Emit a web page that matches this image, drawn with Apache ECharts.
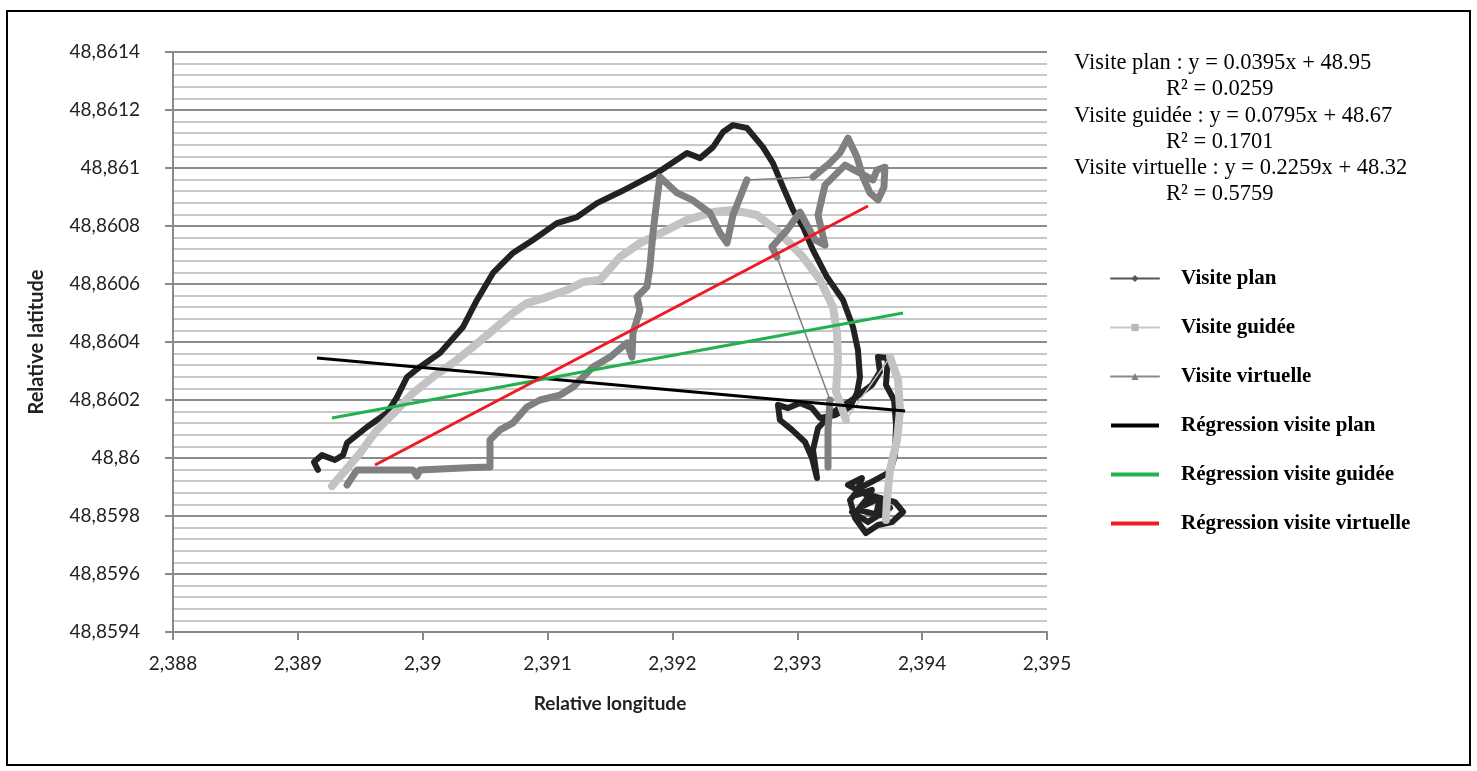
<!DOCTYPE html>
<html>
<head>
<meta charset="utf-8">
<script src="https://cdn.jsdelivr.net/npm/echarts@6/dist/echarts.min.js"></script>
<style>
html, body { margin: 0; padding: 0; background: #fff; }
#chart { width: 1477px; height: 771px; }
</style>
</head>
<body>
<div id="chart"></div>
<script>
// axes
var xTicks = [2.388, 2.389, 2.39, 2.391, 2.392, 2.393, 2.394, 2.395];
var yTicks = [48.8594, 48.8596, 48.8598, 48.86, 48.8602, 48.8604, 48.8606, 48.8608, 48.861, 48.8612, 48.8614];

// trajectoires [longitude, latitude]
var planPath = [
  [2.389161, 48.859959], [2.389129, 48.859986], [2.389193, 48.86001], [2.389297, 48.859993],
  [2.389362, 48.86001], [2.389394, 48.860052], [2.389554, 48.860107], [2.389714, 48.860155],
  [2.389794, 48.86021], [2.389874, 48.860279], [2.389978, 48.860314], [2.390138, 48.860362],
  [2.390323, 48.860452], [2.390435, 48.860545], [2.390563, 48.860638], [2.390723, 48.860707],
  [2.390883, 48.860752], [2.391075, 48.86081], [2.391236, 48.860831], [2.391396, 48.860879],
  [2.39158, 48.860917], [2.391876, 48.860983], [2.392117, 48.861052], [2.392221, 48.861034],
  [2.392325, 48.861072], [2.392405, 48.861124], [2.392485, 48.861148], [2.392597, 48.861138],
  [2.392725, 48.861072], [2.392805, 48.861017], [2.392886, 48.860934], [2.392966, 48.860855],
  [2.393046, 48.860797], [2.393126, 48.860717], [2.393238, 48.860624], [2.393366, 48.860545],
  [2.393446, 48.860452], [2.393486, 48.860372], [2.393502, 48.860279], [2.393478, 48.860224],
  [2.393422, 48.860176], [2.393302, 48.860148], [2.393182, 48.860138], [2.393118, 48.860172],
  [2.393022, 48.86019], [2.392926, 48.860172], [2.392845, 48.860183], [2.392861, 48.860131],
  [2.392958, 48.860097], [2.393062, 48.860055], [2.393118, 48.86], [2.393158, 48.859931],
  [2.393126, 48.860028], [2.393166, 48.860103], [2.393278, 48.860155], [2.393438, 48.8602],
  [2.393598, 48.860252], [2.393662, 48.860297], [2.393646, 48.860348], [2.393726, 48.860345],
  [2.39371, 48.860252], [2.393775, 48.8602], [2.393791, 48.860114], [2.393783, 48.86001],
  [2.393743, 48.859952], [2.393622, 48.859924], [2.393502, 48.859897], [2.393422, 48.859855],
  [2.393462, 48.859793], [2.39355, 48.859741], [2.393646, 48.859769], [2.393759, 48.859779],
  [2.393847, 48.859814], [2.393783, 48.859848], [2.393582, 48.859872], [2.393486, 48.859821],
  [2.393662, 48.859803], [2.393702, 48.859838], [2.393406, 48.859907], [2.393518, 48.859931],
  [2.39347, 48.859872], [2.393598, 48.85989], [2.393542, 48.859838], [2.393662, 48.859862],
  [2.39363, 48.859803], [2.393743, 48.859828], [2.393566, 48.859779], [2.393438, 48.859814]
];

var guideePathA = [
  [2.389273, 48.859903], [2.389362, 48.859948], [2.389498, 48.860017], [2.389634, 48.860097],
  [2.389794, 48.860166], [2.389922, 48.860224], [2.390082, 48.860279], [2.390243, 48.860328],
  [2.390403, 48.860383], [2.390563, 48.860441], [2.390723, 48.8605], [2.390835, 48.860534],
  [2.390995, 48.860555], [2.391156, 48.860579], [2.391284, 48.860607], [2.39142, 48.860614],
  [2.39158, 48.860693], [2.39174, 48.860741], [2.391956, 48.860786], [2.392117, 48.860821],
  [2.392325, 48.860848], [2.392485, 48.860855], [2.392677, 48.860838], [2.392861, 48.860776],
  [2.393046, 48.860693], [2.393182, 48.860614], [2.393286, 48.860521], [2.393318, 48.860431],
  [2.393326, 48.860338], [2.39331, 48.860228], [2.39339, 48.860131]
];
var guideePathB = [
  [2.393743, 48.860348], [2.393807, 48.860269], [2.393823, 48.860166], [2.393799, 48.860062],
  [2.393743, 48.859959], [2.393718, 48.859855], [2.39371, 48.859786]
];

var virtuellePathA = [
  [2.389394, 48.859907], [2.389474, 48.859959], [2.389682, 48.859959], [2.389922, 48.859959],
  [2.389954, 48.859938], [2.389978, 48.859959], [2.390355, 48.859966], [2.390539, 48.859969],
  [2.390539, 48.860062], [2.390619, 48.860097], [2.390723, 48.860121], [2.390835, 48.860176],
  [2.390939, 48.8602], [2.3911, 48.860217], [2.391204, 48.860245], [2.391364, 48.860314],
  [2.3915, 48.860348], [2.391636, 48.860397], [2.391676, 48.860348], [2.391684, 48.860431],
  [2.39174, 48.86051], [2.391716, 48.860555], [2.391796, 48.86059], [2.39182, 48.860659],
  [2.391844, 48.860776], [2.391876, 48.86089], [2.3919, 48.860969], [2.392037, 48.860914],
  [2.392157, 48.86089], [2.392301, 48.860845], [2.392381, 48.860776], [2.392437, 48.860741],
  [2.392485, 48.860838], [2.392597, 48.860959]
];
var virtuellePathB = [
  [2.393126, 48.860969], [2.393262, 48.861017], [2.393342, 48.861052], [2.393406, 48.861103],
  [2.393478, 48.861038], [2.393526, 48.860969], [2.393582, 48.860914], [2.393646, 48.86089],
  [2.393694, 48.860934], [2.393702, 48.861003], [2.393638, 48.860993], [2.393606, 48.860959],
  [2.393382, 48.86101], [2.393222, 48.860941], [2.393166, 48.860838], [2.393222, 48.860734],
  [2.393142, 48.860752], [2.393022, 48.860848], [2.392918, 48.860786], [2.392797, 48.860728],
  [2.392837, 48.860693]
];
var virtuellePathC = [
  [2.393262, 48.8602], [2.393246, 48.860097], [2.393246, 48.859969]
];

// droites de regression
var regPlan = [[2.389153, 48.860345], [2.393863, 48.860162]];
var regGuidee = [[2.389273, 48.860138], [2.393847, 48.8605]];
var regVirtuelle = [[2.389618, 48.859976], [2.393566, 48.860869]];

var equations = [
  'Visite plan : y = 0.0395x + 48.95', 'R\u00b2 = 0.0259',
  'Visite guid\u00e9e : y = 0.0795x + 48.67', 'R\u00b2 = 0.1701',
  'Visite virtuelle : y = 0.2259x + 48.32', 'R\u00b2 = 0.5759'
];

var cPlan = '#222222', cGuidee = '#c3c3c3', cVirt = '#808080';

function lastOf(a) { return a[a.length - 1]; }

function track(name, data, color, width) {
  return {
    name: name, type: 'line', data: data, color: color,
    symbol: name === 'Visite plan' ? 'diamond' : (name === 'Visite guidée' ? 'rect' : 'triangle'),
    showSymbol: false, silent: true, animation: false,
    lineStyle: { color: color, width: width, join: 'round', cap: 'round' }
  };
}
function jump(name, data, color) {
  return {
    name: name, type: 'line', data: data, color: color, symbol: 'none',
    silent: true, animation: false, lineStyle: { color: color, width: 1.5 }
  };
}
function reg(name, data, color) {
  return {
    name: name, type: 'line', data: data, color: color, symbol: 'none',
    silent: true, animation: false, lineStyle: { color: color, width: 3 }
  };
}

var myChart = echarts.init(document.getElementById('chart'));

var labelFont = 'Lato, "Open Sans", sans-serif';
var serif = '"Liberation Serif", "Times New Roman", serif';

var graphics = [{
  type: 'rect', shape: { x: 7, y: 11, width: 1463, height: 754 },
  style: { fill: 'none', stroke: '#000', lineWidth: 2 }, silent: true
}];
var eqY = [63, 89, 116, 142, 168, 194];
equations.forEach(function (t, i) {
  graphics.push({
    type: 'text', x: i % 2 === 0 ? 1074 : 1166, y: eqY[i], silent: true,
    style: { text: t, fill: '#000', font: '22.5px ' + serif, verticalAlign: 'middle' }
  });
});

var option = {
  backgroundColor: '#fff',
  animation: false,
  grid: { left: 173, top: 52, width: 874, height: 580 },
  xAxis: {
    type: 'value', min: xTicks[0], max: xTicks[xTicks.length - 1], interval: 0.001,
    name: 'Relative longitude', nameLocation: 'middle', nameGap: 62,
    nameTextStyle: { fontFamily: labelFont, fontWeight: 'bold', fontSize: 19, color: '#222' },
    axisLine: { show: true, lineStyle: { color: '#8a8a8a', width: 2 } },
    axisTick: { show: true, length: 8, lineStyle: { color: '#8a8a8a', width: 2 } },
    axisLabel: {
      margin: 22, fontFamily: labelFont, fontSize: 19, color: '#222',
      formatter: function (v) { return String(+v.toFixed(3)).replace('.', ','); }
    },
    splitLine: { show: false }
  },
  yAxis: {
    type: 'value', min: yTicks[0], max: yTicks[yTicks.length - 1], interval: 0.0002,
    name: 'Relative latitude', nameLocation: 'middle', nameGap: 126, nameRotate: 90,
    nameTextStyle: { fontFamily: labelFont, fontWeight: 'bold', fontSize: 20, color: '#222' },
    axisLine: { show: true, lineStyle: { color: '#8a8a8a', width: 2 } },
    axisTick: { show: true, length: 8, lineStyle: { color: '#8a8a8a', width: 2 } },
    axisLabel: {
      margin: 33, fontFamily: labelFont, fontSize: 19, color: '#222',
      formatter: function (v) { return String(+v.toFixed(4)).replace('.', ','); }
    },
    splitLine: { show: true, lineStyle: { color: '#8c8c8c', width: 2 } },
    minorTick: { show: false, splitNumber: 5 },
    minorSplitLine: { show: true, lineStyle: { color: '#c8c8c8', width: 2 } }
  },
  legend: {
    orient: 'vertical', left: 1110, top: 268, padding: 0,
    itemWidth: 48, itemHeight: 9, itemGap: 28,
    textStyle: { fontFamily: serif, fontWeight: 'bold', fontSize: 21, color: '#000', padding: [0, 0, 0, 17] },
    data: [
      { name: 'Visite plan', lineStyle: { width: 2, color: '#555' }, itemStyle: { color: '#555' } },
      { name: 'Visite guidée', lineStyle: { width: 2, color: '#c8c8c8' }, itemStyle: { color: '#b8b8b8' } },
      { name: 'Visite virtuelle', lineStyle: { width: 2, color: '#8a8a8a' }, itemStyle: { color: '#808080' } },
      { name: 'Régression visite plan', icon: 'path://M0 0H48V4H0Z', itemStyle: { color: '#000' } },
      { name: 'Régression visite guidée', icon: 'path://M0 0H48V4H0Z', itemStyle: { color: '#22b14c' } },
      { name: 'Régression visite virtuelle', icon: 'path://M0 0H48V4H0Z', itemStyle: { color: '#ed1c24' } }
    ]
  },
  graphic: graphics,
  series: [
    track('Visite plan', planPath, cPlan, 6),
    track('Visite guidée', guideePathA, cGuidee, 8),
    track('Visite guidée', guideePathB, cGuidee, 8),
    jump('Visite guidée', [lastOf(guideePathA), guideePathB[0]], cGuidee),
    track('Visite virtuelle', virtuellePathA, cVirt, 7),
    track('Visite virtuelle', virtuellePathB, cVirt, 7),
    track('Visite virtuelle', virtuellePathC, cVirt, 7),
    jump('Visite virtuelle', [lastOf(virtuellePathA), virtuellePathB[0]], cVirt),
    jump('Visite virtuelle', [lastOf(virtuellePathB), virtuellePathC[0]], cVirt),
    reg('Régression visite plan', regPlan, '#000000'),
    reg('Régression visite guidée', regGuidee, '#22b14c'),
    reg('Régression visite virtuelle', regVirtuelle, '#ed1c24')
  ]
};

myChart.setOption(option);
</script>
</body>
</html>
